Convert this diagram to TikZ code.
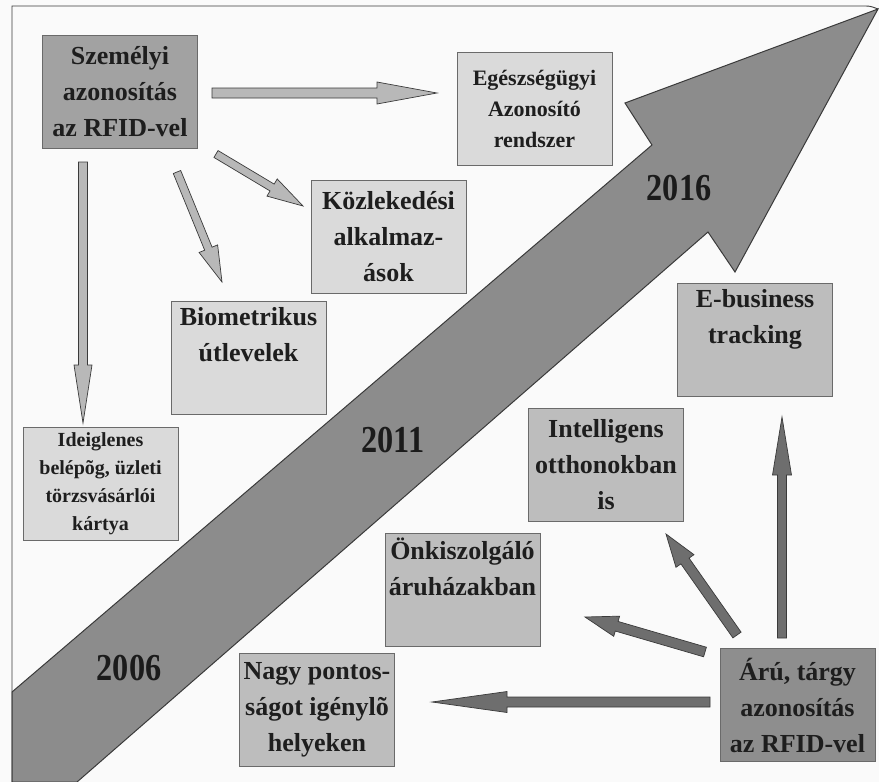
\documentclass[tikz,border=0pt]{standalone}
\usepackage{fontspec}
\setmainfont{Liberation Serif}
\usepackage{graphicx}
\usetikzlibrary{calc}
\definecolor{bgcol}{HTML}{FAFAFA}
\definecolor{txtcol}{HTML}{1E1E1E}
\definecolor{bigfill}{HTML}{8C8C8C}
\definecolor{bigline}{HTML}{3A3A3A}
\definecolor{lightfill}{HTML}{DADADA}
\definecolor{midfill}{HTML}{BDBDBD}
\definecolor{darkfill}{HTML}{A2A2A2}
\definecolor{darkerfill}{HTML}{8E8E8E}
\definecolor{boxline}{HTML}{6A6A6A}
\definecolor{larrowfill}{HTML}{B8B8B8}
\definecolor{darrowfill}{HTML}{6E6E6E}
\newcommand\blockarrow[6]{%
  \coordinate (bah) at ($(#2)!#5!(#1)$);
  \draw[#6] ($(#1)!#3!90:(#2)$) -- ($(bah)!#3!-90:(#1)$) -- ($(bah)!#4!-90:(#1)$) -- (#2)
    -- ($(bah)!#4!90:(#1)$) -- ($(bah)!#3!90:(#1)$) -- ($(#1)!#3!-90:(#2)$) -- cycle;}
\tikzset{
  box/.style={draw=boxline, line width=0.6pt, minimum width=155pt, minimum height=113pt,
    inner sep=0pt, align=center, text=txtcol, font=\fontsize{26}{36}\selectfont\bfseries},
  lightbox/.style={box, fill=lightfill},
  midbox/.style={box, fill=midfill},
  darkbox/.style={box, fill=darkfill},
  darkerbox/.style={box, fill=darkerfill},
  lightarrow/.style={fill=larrowfill, draw=bigline, line width=0.7pt, line join=miter},
  darkarrow/.style={fill=darrowfill, draw=bigline, line width=0.7pt, line join=miter},
  year/.style={text=txtcol!90!black, font=\fontsize{34}{34}\selectfont\bfseries, inner sep=0pt},
}
\begin{document}
\begin{tikzpicture}[x=1pt,y=-1pt]
\useasboundingbox (0,0) rectangle (879,782);
\fill[bgcol] (0,0) rectangle (879,782);
% frame
\draw[line width=0.9pt, bigline] (12,782) -- (12,6) -- (866,6) to[out=0,in=160] (878,9);
% big timeline arrow
\draw[fill=bigfill, draw=bigline, line width=1pt, line join=miter]
  (12,692) -- (652,145) -- (625,103) -- (878,9) -- (735,272) -- (708,232) -- (77,782) -- (12,782) -- cycle;
\node[year] (y2006) at (129,668) {\scalebox{0.95}[1.12]{2006}};
\node[year] (y2011) at (393,440) {\scalebox{0.95}[1.12]{2011}};
\node[year] (y2016) at (679,188) {\scalebox{0.95}[1.12]{2016}};
% boxes
\node[darkbox] (szem) at (120,91.5) {Személyi\\azonosítás\\az RFID-vel};
\node[lightbox, font=\fontsize{22}{31}\selectfont\bfseries] (egesz) at (534.5,108.5) {Egészségügyi\\Azonosító\\rendszer};
\node[lightbox] (kozl) at (388.5,236.5) {Közlekedési\\alkalmaz-\\ások};
\node[lightbox] (bio) at (248.5,357.5) {Biometrikus\\útlevelek\\\strut};
\node[lightbox, font=\fontsize{20}{28}\selectfont\bfseries] (ideig) at (100.5,483.5) {Ideiglenes\\belépõg, üzleti\\törzsvásárlói\\kártya};
\node[midbox] (nagy) at (317,710) {Nagy pontos-\\ságot igénylõ\\helyeken};
\node[midbox] (onki) at (462.5,590) {Önkiszolgáló\\áruházakban\\\strut};
\node[midbox] (intel) at (606,465) {Intelligens\\otthonokban\\is};
\node[midbox] (ebus) at (755,340) {E-business\\tracking\\\strut};
\node[darkerbox] (aru) at (797.5,705) {Árú, tárgy\\azonosítás\\az RFID-vel};
% light arrows from szem
\coordinate (a1s) at (212,93);  \coordinate (a1e) at (437,93);
\coordinate (a2s) at (216,154); \coordinate (a2e) at (303,206);
\coordinate (a3s) at (177,172); \coordinate (a3e) at (222,282);
\coordinate (a4s) at (83,162);  \coordinate (a4e) at (83,423);
\blockarrow{a1s}{a1e}{5pt}{11pt}{60pt}{lightarrow}
\blockarrow{a2s}{a2e}{4pt}{10pt}{36pt}{lightarrow}
\blockarrow{a3s}{a3e}{4pt}{10pt}{36pt}{lightarrow}
\blockarrow{a4s}{a4e}{4.5pt}{9pt}{58pt}{lightarrow}
% dark arrows from aru
\coordinate (b1s) at (782,638); \coordinate (b1e) at (782,417);
\coordinate (b2s) at (737,635); \coordinate (b2e) at (666,534);
\coordinate (b3s) at (705,652); \coordinate (b3e) at (585,617);
\coordinate (b4s) at (710,702); \coordinate (b4e) at (432,702);
\blockarrow{b1s}{b1e}{4.5pt}{9.5pt}{58pt}{darkarrow}
\blockarrow{b2s}{b2e}{5pt}{11pt}{33pt}{darkarrow}
\blockarrow{b3s}{b3e}{5pt}{10.5pt}{33pt}{darkarrow}
\blockarrow{b4s}{b4e}{5pt}{10.5pt}{75pt}{darkarrow}
\end{tikzpicture}
\end{document}
